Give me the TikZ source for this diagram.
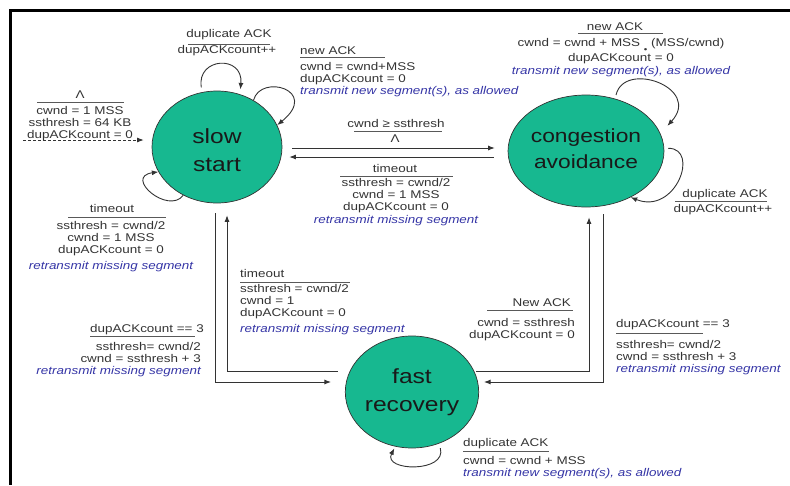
\documentclass[tikz,border=0pt]{standalone}
\usepackage{fontspec}
\setmainfont{Liberation Sans}[FakeStretch=1.2]
\usepackage{graphicx}
\usetikzlibrary{arrows.meta,shapes.geometric}
\definecolor{statefill}{HTML}{17B890}
\definecolor{labeltext}{HTML}{333333}
\definecolor{actionblue}{HTML}{3535A6}
\definecolor{wire}{HTML}{333333}
\newcommand{\actnote}[1]{\textcolor{actionblue}{\itshape #1}}
\newcommand{\lowdot}{\raisebox{-6pt}{\scalebox{0.75}{\textbullet}}}
\tikzset{
  fsmstate/.style={ellipse, draw=black!80, line width=0.7pt, fill=statefill,
    minimum width=130pt, minimum height=112pt, inner sep=0pt, align=center,
    text=black!90, font=\fontsize{20.5}{27.5}\selectfont},
  lbl/.style={inner sep=0pt, text=labeltext, font=\fontsize{11.2}{12.3}\selectfont},
  evrule/.style={black!65, line width=0.7pt},
  arr/.style={wire, line width=0.9pt, -{Latex[length=6.5pt,width=5pt]}},
}
\begin{document}
\begin{tikzpicture}[x=1pt,y=-1pt]
  \useasboundingbox (0,0) rectangle (790,485);
  % frame
  \draw[line width=3pt] (790,10) -- (10,10) -- (10,485);

  % states
  \node[fsmstate] (ss) at (217,147) {\rule{0pt}{21.5pt}slow\\start};
  \node[fsmstate, font=\fontsize{19}{25.5}\selectfont] (ca) at (586,151)
    {congestion\\avoidance\rule[-5pt]{0pt}{5pt}};
  \node[fsmstate] (fr) at (412,392) {fast\\recovery};

  % initial transition
  \coordinate (init) at (23,140);
  \draw[arr, dash pattern=on 3pt off 2pt, shorten >=8pt] (init) -- (init -| ss.west);
  \node[lbl, anchor=base] (initev) at (80,98) {Λ};
  \draw[evrule] (37,102) -- (124,102);
  \node[lbl, anchor=north, align=center] (initact) at (80,105.8)
    {cwnd = 1 MSS\\ssthresh = 64 KB\\dupACKcount = 0};

  % slow start <-> congestion avoidance
  \draw[arr] ([xshift=10pt,yshift=-1pt]ss.east) -- ([xshift=-13pt,yshift=3pt]ca.west);
  \draw[arr] ([xshift=-14pt,yshift=-6pt]ca.west) -- ([xshift=7pt,yshift=-10pt]ss.east);
  \node[lbl, anchor=base] (sscaev) at (396,127) {cwnd ≥ ssthresh};
  \draw[evrule] (354,131) -- (442,131);
  \node[lbl, anchor=base] (sscaact) at (395,142) {Λ};
  \node[lbl, anchor=base] (cassev) at (395,172) {timeout};
  \draw[evrule] (340,176) -- (453,176);
  \node[lbl, anchor=north, align=center] (cassact) at (396,177.8)
    {ssthresh = cwnd/2\\cwnd = 1 MSS\\dupACKcount = 0\\\actnote{retransmit missing segment}};

  % slow start <-> fast recovery
  \draw[arr] ([xshift=-2pt,yshift=-10pt]ss.south) |- ([xshift=-14pt,yshift=10pt]fr.west);
  \draw[arr] ([xshift=-7pt,yshift=21pt]fr.west) -| ([xshift=10pt,yshift=-12pt]ss.south);
  \node[lbl, anchor=base east] (ssfrev) at (204,332) {dupACKcount == 3};
  \draw[evrule] (90,336) -- (195,336);
  \node[lbl, anchor=north east, align=right] (ssfract) at (201,341.8)
    {ssthresh= cwnd/2\\cwnd = ssthresh + 3\\\actnote{retransmit missing segment}};
  \node[lbl, anchor=base west] (frssev) at (240,277) {timeout};
  \draw[evrule] (240,282) -- (350,282);
  \node[lbl, anchor=north west, align=left] (frssact) at (240,283.8)
    {ssthresh = cwnd/2\\cwnd = 1\\dupACKcount = 0\\[3pt]\actnote{retransmit missing segment}};

  % fast recovery <-> congestion avoidance
  \draw[arr] ([xshift=-3pt,yshift=21pt]fr.east) -| ([xshift=3pt,yshift=-10pt]ca.south);
  \draw[arr] ([xshift=17pt,yshift=-7pt]ca.south) |- ([xshift=5pt,yshift=10pt]fr.east);
  \node[lbl, anchor=base east] (frcaev) at (571,306) {New ACK};
  \draw[evrule] (487,310) -- (573,310);
  \node[lbl, anchor=north east, align=right] (frcaact) at (575,317.8)
    {cwnd = ssthresh\\dupACKcount = 0};
  \node[lbl, anchor=base west] (cafrev) at (616,327) {dupACKcount == 3};
  \draw[evrule] (616,333) -- (703,333);
  \node[lbl, anchor=north west, align=left] (cafract) at (616,339.8)
    {ssthresh= cwnd/2\\cwnd = ssthresh + 3\\\actnote{retransmit missing segment}};

  % self loops
  \draw[arr] ([yshift=5pt]ss.106) .. controls +(-5,-30) and +(3,-35) .. ([yshift=5pt]ss.66);
  \node[lbl, anchor=base] (ssdupev) at (229,37) {duplicate ACK};
  \draw[evrule] (188,44) -- (270,44);
  \node[lbl, anchor=base] (ssdupact) at (227,53) {dupACKcount++};

  \draw[arr] (ss.52) .. controls +(7,-27) and +(43,-35) .. (ss.20);
  \node[lbl, anchor=base west] (ssnewev) at (300,54) {new ACK};
  \draw[evrule] (300,57) -- (385,57);
  \node[lbl, anchor=north west, align=left] (ssnewact) at (300,61.8)
    {cwnd = cwnd+MSS\\dupACKcount = 0\\\actnote{transmit new segment(s), as allowed}};

  \draw[arr] (ss.235) .. controls +(-15,20) and +(-35,5) .. (ss.203);
  \node[lbl, anchor=base] (sstoev) at (112,212) {timeout};
  \draw[evrule] (68,217) -- (166,217);
  \node[lbl, anchor=north, align=center] (sstoact) at (111,220.8)
    {ssthresh = cwnd/2\\cwnd = 1 MSS\\dupACKcount = 0\\[3pt]\actnote{retransmit missing segment}};

  \draw[arr] ([yshift=4pt]ca.60) .. controls +(8,-35) and +(35,-38) .. ([xshift=10pt,yshift=2pt]ca.18);
  \node[lbl, anchor=base] (canewev) at (615,30) {new ACK};
  \draw[evrule] (578,33) -- (663,33);
  \node[lbl, anchor=north, align=center] (canewact) at (621,38.3)
    {cwnd = cwnd + MSS \lowdot\ (MSS/cwnd)\\dupACKcount = 0\\\actnote{transmit new segment(s), as allowed}};

  \draw[arr] ([xshift=4pt]ca.2) .. controls +(32,0) and +(45,18) .. (ca.-46);
  \node[lbl, anchor=base] (cadupev) at (725,197) {duplicate ACK};
  \draw[evrule] (675,201) -- (767,201);
  \node[lbl, anchor=base] (cadupact) at (723,212) {dupACKcount++};

  \draw[arr] ([yshift=-5pt]fr.-61) .. controls +(7,25) and +(-12,23) .. ([yshift=-2pt]fr.252);
  \node[lbl, anchor=base west] (frdupev) at (463,446) {duplicate ACK};
  \draw[evrule] (463,451) -- (549,451);
  \node[lbl, anchor=north west, align=left] (frdupact) at (463,455.8)
    {cwnd = cwnd + MSS\\\actnote{transmit new segment(s), as allowed}};
\end{tikzpicture}
\end{document}
